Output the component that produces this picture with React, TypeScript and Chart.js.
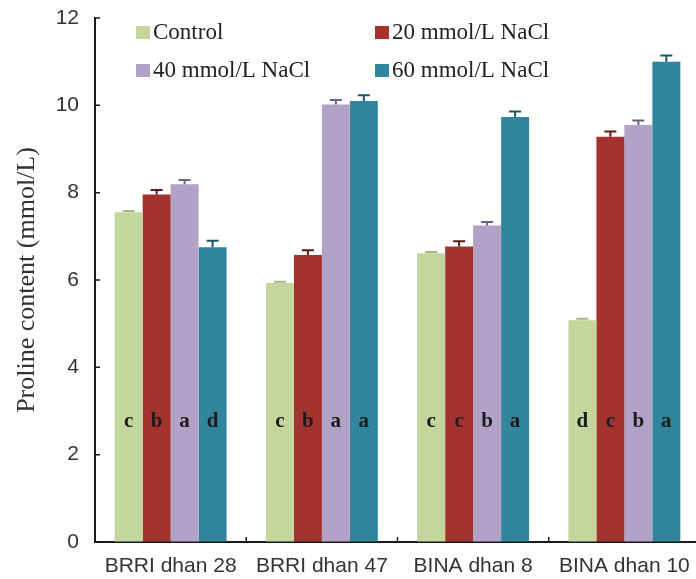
import React, { useEffect, useRef } from "react";
import { Chart, registerables } from "chart.js";

Chart.register(...registerables);

const categories = ["BRRI dhan 28", "BRRI dhan 47", "BINA dhan 8", "BINA dhan 10"];
const seriesNames = ["Control", "20 mmol/L NaCl", "40 mmol/L NaCl", "60 mmol/L NaCl"];
const controlValues = [7.55, 5.93, 6.61, 5.08];
const nacl20Values = [7.96, 6.57, 6.77, 9.28];
const nacl40Values = [8.19, 10.02, 7.25, 9.55];
const nacl60Values = [6.75, 10.1, 9.73, 11.0];
const controlErr = [0.03, 0.03, 0.03, 0.03];
const nacl20Err = [0.1, 0.11, 0.12, 0.12];
const nacl40Err = [0.1, 0.1, 0.08, 0.1];
const nacl60Err = [0.15, 0.13, 0.13, 0.14];
const controlLetters = ["c", "c", "c", "d"];
const nacl20Letters = ["b", "b", "c", "c"];
const nacl40Letters = ["a", "a", "b", "b"];
const nacl60Letters = ["d", "a", "a", "a"];
const letterLevel = 2.75;
const yTicks = [0, 2, 4, 6, 8, 10, 12];

const colors = ["#c3d69b", "#a2332f", "#b3a2c7", "#31859c"];
const errColors = ["#a8b987", "#5e1a18", "#6f6283", "#1d5667"];

const values = [controlValues, nacl20Values, nacl40Values, nacl60Values];
const errors = [controlErr, nacl20Err, nacl40Err, nacl60Err];
const letters = [controlLetters, nacl20Letters, nacl40Letters, nacl60Letters];

const overlayPlugin = {
  id: "overlay",
  afterDatasetsDraw(chart: any) {
    const ctx = chart.ctx;
    const y = chart.scales.y;
    const x = chart.scales.x;
    ctx.save();
    chart.data.datasets.forEach((ds: any, di: number) => {
      const meta = chart.getDatasetMeta(di);
      meta.data.forEach((bar: any, i: number) => {
        const v = values[di][i];
        const e = errors[di][i];
        const top = y.getPixelForValue(v + e);
        const base = y.getPixelForValue(v);
        ctx.strokeStyle = errColors[di];
        ctx.lineWidth = 2;
        ctx.beginPath();
        ctx.moveTo(bar.x, base);
        ctx.lineTo(bar.x, top);
        ctx.moveTo(bar.x - 6, top);
        ctx.lineTo(bar.x + 6, top);
        ctx.stroke();
        ctx.fillStyle = "#1c1c1c";
        ctx.font = "bold 21px 'Liberation Serif', 'Times New Roman', serif";
        ctx.textAlign = "center";
        ctx.textBaseline = "middle";
        ctx.fillText(letters[di][i], bar.x, y.getPixelForValue(letterLevel));
      });
    });
    ctx.strokeStyle = "#1a1a1a";
    ctx.lineWidth = 1.5;
    ctx.beginPath();
    yTicks.forEach((t) => {
      const py = y.getPixelForValue(t);
      ctx.moveTo(x.left, py);
      ctx.lineTo(x.left + 5, py);
    });
    for (let i = 1; i < categories.length; i++) {
      const px = (x.getPixelForValue(i - 1) + x.getPixelForValue(i)) / 2;
      ctx.moveTo(px, y.bottom);
      ctx.lineTo(px, y.bottom - 5);
    }
    ctx.stroke();
    const legendPos = [
      [136, 33],
      [375, 33],
      [136, 71],
      [375, 71],
    ];
    ctx.font = "23px 'Liberation Serif', 'Times New Roman', serif";
    ctx.textAlign = "left";
    ctx.textBaseline = "middle";
    seriesNames.forEach((name, i) => {
      const [lx, ly] = legendPos[i];
      ctx.fillStyle = colors[i];
      ctx.fillRect(lx, ly - 7, 14, 13);
      ctx.fillStyle = "#222";
      ctx.fillText(name, lx + 17, ly);
    });
    ctx.restore();
  },
};

export default function App() {
  const ref = useRef<HTMLCanvasElement | null>(null);
  useEffect(() => {
    if (!ref.current) return;
    const chart = new Chart(ref.current, {
      type: "bar",
      data: {
        labels: categories,
        datasets: seriesNames.map((name, i) => ({
          label: name,
          data: values[i],
          backgroundColor: colors[i],
          borderWidth: 0,
          categoryPercentage: 0.74,
          barPercentage: 1.0,
        })),
      },
      options: {
        responsive: false,
        animation: false,
        devicePixelRatio: 1,
        layout: { padding: { top: 18, right: 2, bottom: 0, left: 0 } },
        plugins: {
          legend: { display: false },
          tooltip: { enabled: false },
        },
        scales: {
          x: {
            grid: { display: true, drawOnChartArea: false, drawTicks: false },
            border: { display: true, color: "#1a1a1a", width: 2 },
            ticks: {
              color: "#333",
              font: { family: "'Liberation Sans', Arial, sans-serif", size: 21 },
              padding: 12,
              maxRotation: 0,
              autoSkip: false,
            },
            afterFit: (s: any) => {
              s.height = 37;
              s.paddingLeft = 0;
              s.paddingRight = 0;
            },
          },
          y: {
            min: 0,
            max: 12,
            grid: { display: true, drawOnChartArea: false, drawTicks: false },
            border: { display: true, color: "#1a1a1a", width: 2 },
            ticks: {
              stepSize: 2,
              color: "#333",
              font: { family: "'Liberation Sans', Arial, sans-serif", size: 21 },
              padding: 16,
            },
            title: {
              display: true,
              text: "Proline content (mmol/L)",
              color: "#333",
              font: { family: "'Liberation Serif', 'Times New Roman', serif", size: 26 },
              padding: { top: 12, bottom: 0 },
            },
            afterFit: (s: any) => {
              s.width = 95;
              s.paddingTop = 0;
              s.paddingBottom = 0;
            },
          },
        },
      },
      plugins: [overlayPlugin],
    });
    return () => chart.destroy();
  }, []);
  return (
    <div style={{ position: "fixed", left: 0, top: 0, width: 696, height: 579, overflow: "hidden", background: "#fff" }}>
      <canvas ref={ref} width={702} height={579} style={{ display: "block" }} />
    </div>
  );
}
